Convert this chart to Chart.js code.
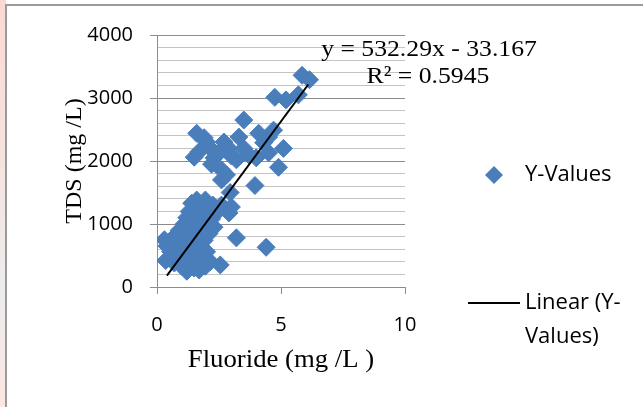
<!DOCTYPE html>
<html>
<head>
<meta charset="utf-8">
<script src="https://cdn.jsdelivr.net/npm/chart.js@4.4.1/dist/chart.umd.min.js"></script>
<style>
  html, body { margin: 0; padding: 0; background: #fff; }
  #wrap { position: relative; width: 643px; height: 407px; overflow: hidden; background: #fff; }
  #strip { position: absolute; left: 0; top: 0; width: 6px; height: 407px;
           background: linear-gradient(#fbd9d3, #f6e3e0 40%, #ececec 70%, #fbe6e2); }
  #frame { position: absolute; left: 5px; top: 4px; width: 700px; height: 500px;
           border-left: 2px solid #9a9a9a; border-top: 2px solid #9a9a9a; }
  canvas { position: absolute; left: 0; top: 0; }
</style>
</head>
<body>
<div id="wrap">
  <div id="strip"></div>
  <div id="frame"></div>
  <canvas id="chart" width="643" height="407"></canvas>
</div>
<script>
// === Data ===
const fluoride = [
  // lower cluster
  0.3, 0.4, 0.5, 0.35, 0.55, 0.6, 0.7, 0.8, 0.75, 0.9,
  0.95, 1.0, 1.0, 1.1, 1.1, 1.15, 1.2, 1.2, 1.25, 1.3,
  1.3, 1.35, 1.4, 1.4, 1.45, 1.5, 1.5, 1.55, 1.6, 1.6,
  1.65, 1.7, 1.7, 1.75, 1.8, 1.8, 1.85, 1.9, 1.95, 1.95,
  2.0, 2.0, 2.05, 2.1, 2.15, 2.2, 2.25, 2.3, 2.4, 2.5,
  2.55, 2.6, 2.9, 3.0, 3.2, 4.4, 2.95, 2.6,
  // upper cluster
  1.6, 1.9, 1.5, 1.7, 2.1, 2.0, 2.3, 2.5, 2.6, 2.8,
  2.2, 2.7, 2.9, 3.0, 3.3, 3.5, 3.2, 3.5, 3.7, 4.0,
  4.1, 4.3, 4.5, 4.7, 4.5, 4.9, 5.1, 3.95, 4.75, 5.2,
  5.7, 5.85, 6.15
];
const tds = [
  750, 650, 720, 420, 560, 480, 380, 620, 820, 900,
  700, 540, 330, 450, 1000, 780, 1100, 250, 640, 880,
  1200, 420, 1330, 560, 980, 300, 760, 1150, 1380, 500,
  880, 270, 1050, 650, 1250, 420, 950, 740, 1380, 330,
  1000, 560, 1200, 850, 400, 1080, 1300, 950, 1180, 1230,
  350, 1300, 1175, 1270, 780, 630, 1500, 1700,
  2440, 2370, 2060, 2150, 2220, 2300, 2050, 2130, 1860, 1780,
  1950, 2300, 2200, 2080, 2380, 2200, 2020, 2650, 2100, 2050,
  2440, 2290, 2130, 2490, 2380, 1900, 2200, 1610, 3010, 2970,
  3050, 3360, 3290
];

// trendline ends, on y = 532.29x - 33.167
const trendX = [0.4, 6.1];
const trendY = [180, 3214];

const xTicks = [0, 5, 10];
const yMajor = 1000;

const equationText = "y = 532.29x - 33.167";
const r2Text = "R\u00b2 = 0.5945";

const pointColor = "#4a7ebb";
const tickFont = { family: "'Open Sans', sans-serif", size: 20 };
const serif = "'Liberation Serif', 'Times New Roman', serif";

// horizontal text in the picture is a bit wide
function wideText(ctx, text, x, y) {
  ctx.save();
  ctx.translate(x, y);
  ctx.scale(1.07, 1);
  ctx.fillText(text, 0, 0);
  ctx.restore();
}

// === Labels, equation and legend ===
const extras = {
  id: "extras",
  afterDraw(chart) {
    const { ctx, chartArea: a } = chart;
    ctx.save();
    ctx.fillStyle = "#000";
    ctx.font = "24px " + serif;
    ctx.textBaseline = "alphabetic";
    ctx.textAlign = "center";
    wideText(ctx, equationText, 429, 56);
    wideText(ctx, r2Text, 428, 83);

    // axis titles
    ctx.font = "25px " + serif;
    ctx.textBaseline = "middle";
    wideText(ctx, "Fluoride (mg /L )", (a.left + a.right) / 2, 360);
    ctx.font = "24px " + serif;
    ctx.save();
    ctx.translate(75, 161);
    ctx.rotate(-Math.PI / 2);
    ctx.fillText("TDS (mg /L)", 0, 0);
    ctx.restore();

    // legend
    ctx.font = "22px " + tickFont.family;
    ctx.textAlign = "left";
    ctx.fillStyle = pointColor;
    ctx.beginPath();
    ctx.moveTo(494, 166); ctx.lineTo(503, 175); ctx.lineTo(494, 184); ctx.lineTo(485, 175);
    ctx.closePath();
    ctx.fill();
    ctx.fillStyle = "#000";
    ctx.fillText("Y-Values", 525, 175);
    ctx.strokeStyle = "#000";
    ctx.lineWidth = 2;
    ctx.beginPath();
    ctx.moveTo(468, 303); ctx.lineTo(520, 303);
    ctx.stroke();
    ctx.fillText("Linear (Y-", 525, 303);
    ctx.fillText("Values)", 525, 337);
    ctx.restore();
  }
};

// === Chart ===
new Chart(document.getElementById("chart"), {
  type: "scatter",
  data: {
    datasets: [
      {
        label: "Linear (Y-Values)",
        data: trendX.map((x, i) => ({ x: x, y: trendY[i] })),
        showLine: true,
        borderColor: "#000",
        borderWidth: 2,
        pointRadius: 0,
        order: 0,
      },
      {
        label: "Y-Values",
        data: fluoride.map((x, i) => ({ x: x, y: tds[i] })),
        pointStyle: "rectRot",
        pointRadius: 9,
        backgroundColor: pointColor,
        borderColor: pointColor,
        borderWidth: 1,
        order: 1,
      },
    ],
  },
  options: {
    responsive: false,
    animation: false,
    layout: { padding: { left: 0, top: 35, right: 238, bottom: 0 } },
    plugins: { legend: { display: false }, tooltip: { enabled: false } },
    scales: {
      x: {
        type: "linear",
        min: 0,
        max: 10,
        afterBuildTicks: (s) => { s.ticks = xTicks.map((v) => ({ value: v })); },
        afterFit: (s) => { s.height = 120; },
        ticks: { font: tickFont, color: "#000", padding: 19, maxRotation: 0 },
        grid: { drawOnChartArea: false, tickLength: 7, color: "#8c8c8c" },
        border: { color: "#8c8c8c", width: 1 },
      },
      y: {
        min: 0,
        max: 4000,
        afterFit: (s) => { s.width = 157; },
        ticks: {
          stepSize: 200,
          autoSkip: false,
          font: tickFont,
          color: "#000",
          padding: 17,
          callback: (v) => (v % yMajor === 0 ? v : ""),
        },
        grid: {
          tickLength: 7,
          color: (c) => (c.tick && c.tick.value % yMajor === 0 ? "#8c8c8c" : "#c4c4c4"),
          tickColor: (c) => (c.tick && c.tick.value % yMajor === 0 ? "#8c8c8c" : "rgba(0,0,0,0)"),
        },
        border: { color: "#8c8c8c", width: 1 },
      },
    },
  },
  plugins: [extras],
});
</script>
</body>
</html>
